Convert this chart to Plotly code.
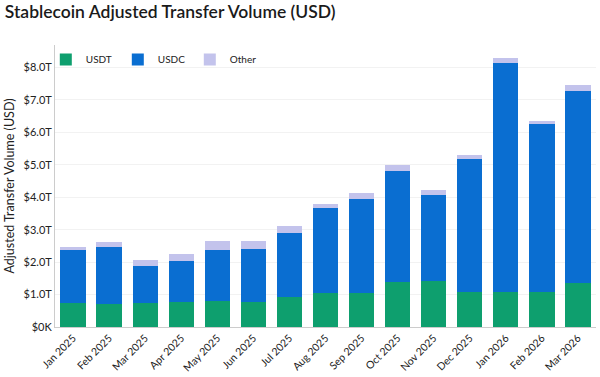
import plotly.graph_objects as go

months = ["Jan 2025", "Feb 2025", "Mar 2025", "Apr 2025", "May 2025", "Jun 2025",
          "Jul 2025", "Aug 2025", "Sep 2025", "Oct 2025", "Nov 2025", "Dec 2025",
          "Jan 2026", "Feb 2026", "Mar 2026"]
# values in trillions USD
usdt = [0.73, 0.71, 0.74, 0.76, 0.80, 0.76, 0.94, 1.04, 1.06, 1.40, 1.43, 1.08, 1.09, 1.09, 1.37]
usdc = [1.65, 1.77, 1.15, 1.28, 1.58, 1.64, 1.96, 2.62, 2.89, 3.41, 2.64, 4.10, 7.05, 5.17, 5.91]
other = [0.07, 0.13, 0.18, 0.21, 0.26, 0.25, 0.22, 0.14, 0.18, 0.18, 0.16, 0.13, 0.14, 0.10, 0.19]
tick_vals = [0, 1, 2, 3, 4, 5, 6, 7, 8]
tick_text = ["$0K", "$1.0T", "$2.0T", "$3.0T", "$4.0T", "$5.0T", "$6.0T", "$7.0T", "$8.0T"]

font_family = "Lato, Noto Sans, sans-serif"

fig = go.Figure()
fig.add_trace(go.Bar(name="USDT", x=months, y=usdt, marker_color="#0E9F6E", marker_line_width=0))
fig.add_trace(go.Bar(name="USDC", x=months, y=usdc, marker_color="#0A6ED1", marker_line_width=0))
fig.add_trace(go.Bar(name="Other", x=months, y=other, marker_color="#C3C3EC", marker_line_width=0))

fig.update_layout(
    barmode="stack",
    bargap=0.3,
    width=600, height=377,
    margin=dict(l=55, r=4, t=45, b=50, autoexpand=False),
    paper_bgcolor="white", plot_bgcolor="white",
    font=dict(family=font_family, color="#222222", size=11),
    title=dict(text="Stablecoin Adjusted Transfer Volume (USD)", x=0.008, xanchor="left",
               y=0.985, yanchor="top",
               font=dict(size=17.5, color="#1a1a1a", family=font_family, weight=600)),
    legend=dict(orientation="h", x=-0.017, y=1.0, xanchor="left", yanchor="top",
                bgcolor="rgba(0,0,0,0)", font=dict(size=10), traceorder="normal",
                itemwidth=30, entrywidth=27, entrywidthmode="pixels"),
    showlegend=True,
)
fig.update_yaxes(range=[0, 8.69], tickvals=tick_vals, ticktext=tick_text, automargin=False,
                 showgrid=True, gridcolor="#f2f2f2", gridwidth=1,
                 showline=True, linecolor="#cccccc", linewidth=1,
                 zeroline=False, ticks="", tickfont=dict(size=11),
                 title=dict(text="Adjusted Transfer Volume (USD)", font=dict(size=12.5), standoff=6))
fig.update_xaxes(tickangle=-45, showline=True, linecolor="#cccccc", linewidth=1, automargin=False,
                 ticks="", tickfont=dict(size=10.5), showgrid=False)

fig.write_html("out.html", config={"displayModeBar": False},
               post_script="document.body.style.margin='0';")
